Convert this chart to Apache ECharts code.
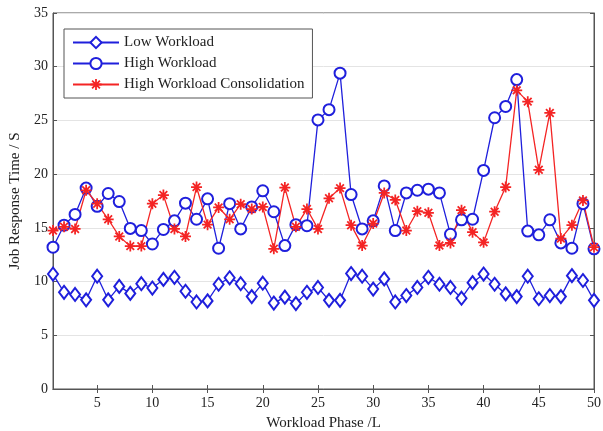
<!DOCTYPE html>
<html>
<head>
<meta charset="utf-8">
<script src="https://cdn.jsdelivr.net/npm/echarts@6/dist/echarts.min.js"></script>
<style>
  html, body { margin: 0; padding: 0; background: #fff; }
  #chart { width: 603px; height: 431px; }
</style>
</head>
<body>
<div id="chart"></div>
<script>
// workload phases 1..50
var phases = [];
for (var p = 1; p <= 50; p++) phases.push(p);

var xTicks = [5, 10, 15, 20, 25, 30, 35, 40, 45, 50];

var lowWorkload = [10.7, 9.0, 8.8, 8.3, 10.5, 8.3, 9.55, 8.9, 9.8, 9.4,
    10.2, 10.4, 9.1, 8.1, 8.2, 9.75, 10.35, 9.8, 8.6, 9.85,
    8.0, 8.55, 7.95, 9.0, 9.45, 8.25, 8.25, 10.75, 10.5, 9.3,
    10.25, 8.1, 8.7, 9.45, 10.4, 9.75, 9.45, 8.45, 9.9, 10.7,
    9.75, 8.85, 8.6, 10.5, 8.4, 8.7, 8.6, 10.55, 10.1, 8.25];

var highWorkload = [13.2, 15.25, 16.25, 18.7, 17.0, 18.2, 17.45, 14.95, 14.75, 13.5,
    14.85, 15.65, 17.3, 15.8, 17.7, 13.1, 17.25, 14.9, 16.95, 18.45,
    16.5, 13.35, 15.3, 15.2, 25.05, 26.0, 29.4, 18.1, 14.9, 15.65,
    18.9, 14.75, 18.25, 18.5, 18.6, 18.25, 14.4, 15.75, 15.8, 20.35,
    25.25, 26.3, 28.8, 14.7, 14.35, 15.75, 13.6, 13.1, 17.25, 13.05];

var highConsolidation = [14.75, 15.1, 14.9, 18.5, 17.25, 15.8, 14.2, 13.3, 13.3, 17.25,
    18.05, 14.9, 14.2, 18.8, 15.3, 16.9, 15.8, 17.2, 16.75, 16.95,
    13.05, 18.75, 15.1, 16.75, 14.9, 17.75, 18.7, 15.25, 13.35, 15.4,
    18.25, 17.6, 14.75, 16.55, 16.4, 13.35, 13.6, 16.65, 14.6, 13.65,
    16.5, 18.8, 27.8, 26.75, 20.4, 25.7, 14.0, 15.25, 17.55, 13.2];

function pairs(arr) {
    return arr.map(function (v, i) { return [phases[i], v]; });
}

var blue = '#1f1fdc';
var red = '#f42424';
var axisColor = '#555';
var font = '"Liberation Serif", "DejaVu Serif", serif';

// asterisk marker like matlab '*'
var asterisk = 'path://M0,4.2L10,4.2L10,5.8L0,5.8Z' +
    'M4.2,0L5.8,0L5.8,10L4.2,10Z' +
    'M2.07,0.93L9.07,7.93L7.93,9.07L0.93,2.07Z' +
    'M7.93,0.93L9.07,2.07L2.07,9.07L0.93,7.93Z';

var myChart = echarts.init(document.getElementById('chart'));
var option = {
    animation: false,
    backgroundColor: '#fff',
    grid: {
        left: 53, right: 9, top: 13, bottom: 42,
        outerBoundsMode: 'none',
        show: true, borderColor: axisColor, borderWidth: 1
    },
    legend: {
        orient: 'vertical',
        left: 64, top: 29,
        padding: [6, 8, 6, 8],
        itemGap: 6,
        itemWidth: 46, itemHeight: 14,
        backgroundColor: '#fff',
        borderColor: '#555', borderWidth: 1,
        textStyle: { fontFamily: font, fontSize: 15, color: '#222' },
        data: ['Low Workload', 'High Workload', 'High Workload Consolidation']
    },
    xAxis: [{
        type: 'value',
        min: 1, max: 50,
        name: 'Workload Phase /L',
        nameLocation: 'middle',
        nameGap: 27,
        nameTextStyle: { fontFamily: font, fontSize: 15, color: '#222' },
        axisLine: { lineStyle: { color: axisColor } },
        axisTick: { inside: true, length: 4, customValues: xTicks, lineStyle: { color: axisColor } },
        axisLabel: { customValues: xTicks, fontFamily: font, fontSize: 14, color: '#222', margin: 7 },
        splitLine: { show: false }
    }, {
        type: 'value',
        position: 'top',
        min: 1, max: 50,
        axisLine: { show: true, lineStyle: { color: axisColor } },
        axisTick: { show: true, inside: true, length: 4, customValues: xTicks, lineStyle: { color: axisColor } },
        axisLabel: { show: false },
        splitLine: { show: false }
    }],
    yAxis: [{
        type: 'value',
        min: 0, max: 35, interval: 5,
        name: 'Job Response Time / S',
        nameLocation: 'middle',
        nameGap: 30,
        nameTextStyle: { fontFamily: font, fontSize: 15, color: '#222' },
        axisLine: { show: true, lineStyle: { color: axisColor } },
        axisTick: { show: true, inside: true, length: 4, lineStyle: { color: axisColor } },
        axisLabel: { fontFamily: font, fontSize: 14, color: '#222', margin: 5 },
        splitLine: { show: true, lineStyle: { color: '#e4e4e4', width: 1 } }
    }, {
        type: 'value',
        position: 'right',
        min: 0, max: 35, interval: 5,
        axisLine: { show: true, lineStyle: { color: axisColor } },
        axisTick: { show: true, inside: true, length: 4, lineStyle: { color: axisColor } },
        axisLabel: { show: false },
        splitLine: { show: false }
    }],
    series: [{
        name: 'Low Workload',
        type: 'line',
        data: pairs(lowWorkload),
        symbol: 'emptyDiamond',
        symbolSize: [10, 13],
        lineStyle: { color: blue, width: 1.3 },
        itemStyle: { color: blue, borderColor: blue, borderWidth: 1.3 }
    }, {
        name: 'High Workload',
        type: 'line',
        data: pairs(highWorkload),
        symbol: 'emptyCircle',
        symbolSize: 11,
        lineStyle: { color: blue, width: 1.3 },
        itemStyle: { color: blue, borderColor: blue, borderWidth: 1.3 }
    }, {
        name: 'High Workload Consolidation',
        type: 'line',
        data: pairs(highConsolidation),
        symbol: asterisk,
        symbolSize: 11,
        lineStyle: { color: red, width: 1.3 },
        itemStyle: { color: red }
    }]
};
myChart.setOption(option);
</script>
</body>
</html>
